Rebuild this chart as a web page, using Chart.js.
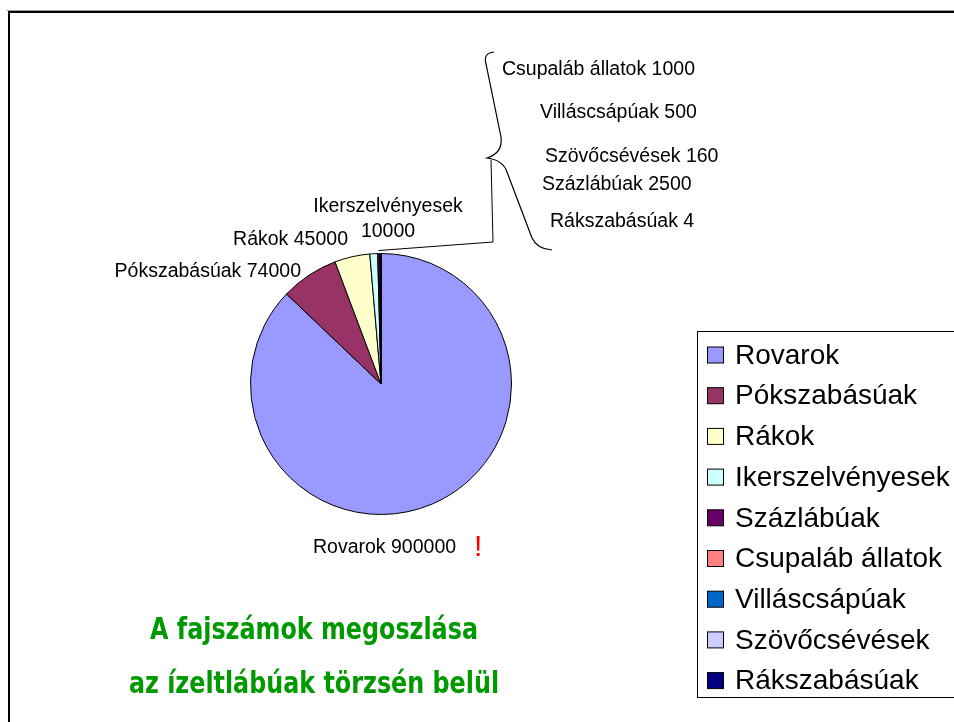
<!DOCTYPE html>
<html>
<head>
<meta charset="utf-8">
<script src="https://cdn.jsdelivr.net/npm/chart.js@4/dist/chart.umd.min.js"></script>
<style>
  html, body { margin: 0; padding: 0; background: #fff; overflow: hidden; }
  canvas { display: block; }
</style>
</head>
<body>
<canvas id="fajChart" width="954" height="722"></canvas>
<script>
const categories = ['Rovarok', 'Pókszabásúak', 'Rákok', 'Ikerszelvényesek', 'Százlábúak',
                    'Csupaláb állatok', 'Villáscsápúak', 'Szövőcsévések', 'Rákszabásúak'];
const speciesCounts = [900000, 74000, 45000, 10000, 2500, 1000, 500, 160, 4];
const sliceColors = ['#9999FF', '#993366', '#FFFFCC', '#CCFFFF', '#660066',
                     '#FF8080', '#0066CC', '#CCCCFF', '#000080'];
const titleLines = ['A fajszámok megoszlása', 'az ízeltlábúak törzsén belül'];

const LABEL_FONT = '19.5px "Liberation Sans", Arial, sans-serif';

// where each slice label sits (x, y = text anchor, vertical middle)
const labelSpots = [
    { x: 313, y: 548, align: 'left' },
    { x: 301, y: 272, align: 'right' },
    { x: 348, y: 240, align: 'right' },
    { x: 388, y: 207, align: 'center', split: true },
    { x: 542, y: 185, align: 'left' },
    { x: 502, y: 70, align: 'left' },
    { x: 540, y: 113, align: 'left' },
    { x: 545, y: 157, align: 'left' },
    { x: 550, y: 222, align: 'left' }
];

const decorPlugin = {
    id: 'decor',
    beforeDraw(chart) {
        const ctx = chart.ctx;
        ctx.save();
        ctx.fillStyle = '#fff';
        ctx.fillRect(0, 0, chart.width, chart.height);
        // slide frame
        ctx.fillStyle = '#999';
        ctx.fillRect(7, 10, chart.width, 1);
        ctx.fillStyle = '#000';
        ctx.fillRect(8, 11, chart.width, 2);
        ctx.fillRect(8, 11, 2, chart.height);
        ctx.restore();
    },
    afterDraw(chart) {
        const ctx = chart.ctx;
        const arcs = chart.getDatasetMeta(0).data;
        ctx.save();

        // slice labels
        ctx.font = LABEL_FONT;
        ctx.fillStyle = '#000';
        ctx.textBaseline = 'middle';
        labelSpots.forEach((s, i) => {
            ctx.textAlign = s.align;
            if (s.split) {
                ctx.fillText(categories[i], s.x, s.y);
                ctx.fillText(String(speciesCounts[i]), s.x, s.y + 25);
            } else {
                ctx.fillText(categories[i] + ' ' + speciesCounts[i], s.x, s.y);
            }
        });

        // red exclamation after the insect label
        ctx.font = '30px "Liberation Sans", Arial, sans-serif';
        ctx.fillStyle = '#FF0000';
        ctx.textAlign = 'left';
        ctx.fillText('!', 474, 548);

        // curly brace grouping the tiny slices
        ctx.strokeStyle = '#000';
        ctx.lineWidth = 1.2;
        ctx.beginPath();
        ctx.moveTo(494, 52);
        ctx.quadraticCurveTo(483, 53, 486, 64);
        ctx.lineTo(501, 137);
        ctx.quadraticCurveTo(503, 153, 487, 158);
        ctx.quadraticCurveTo(503, 160, 507, 172);
        ctx.lineTo(532, 238);
        ctx.quadraticCurveTo(537, 249, 552, 250);
        ctx.stroke();

        // leader from the brace down to the thin slices
        const a = arcs[4];
        const mid = (a.startAngle + a.endAngle) / 2;
        const tipX = a.x + Math.cos(mid) * (a.outerRadius + 3);
        const tipY = a.y + Math.sin(mid) * (a.outerRadius + 3);
        ctx.lineWidth = 1;
        ctx.beginPath();
        ctx.moveTo(491, 160);
        ctx.lineTo(493, 242);
        ctx.lineTo(tipX, tipY);
        ctx.stroke();

        // legend
        const lx = 697.5, ly = 331.5;
        ctx.strokeStyle = '#000';
        ctx.lineWidth = 1;
        ctx.strokeRect(lx, ly, 320, 366);
        ctx.font = '28px "Liberation Sans", Arial, sans-serif';
        ctx.textBaseline = 'middle';
        categories.forEach((name, i) => {
            const rowY = 355 + i * 40.7;
            ctx.fillStyle = sliceColors[i];
            ctx.fillRect(707.5, rowY - 8, 16, 16);
            ctx.strokeRect(707.5, rowY - 8, 16, 16);
            ctx.fillStyle = '#000';
            ctx.fillText(name, 735, rowY + 1);
        });

        // title, slightly stretched vertically
        ctx.fillStyle = '#009900';
        ctx.textAlign = 'center';
        ctx.font = 'bold 26.5px "DejaVu Sans Condensed", "DejaVu Sans", sans-serif';
        [631, 685].forEach((y, i) => {
            ctx.save();
            ctx.translate(314, y);
            ctx.scale(1, 1.12);
            ctx.fillText(titleLines[i], 0, 0);
            ctx.restore();
        });

        ctx.restore();
    }
};

const ctx = document.getElementById('fajChart').getContext('2d');
const fajChart = new Chart(ctx, {
    type: 'pie',
    data: {
        labels: categories,
        datasets: [{
            data: speciesCounts,
            backgroundColor: sliceColors,
            borderColor: '#000',
            borderWidth: 1
        }]
    },
    options: {
        responsive: false,
        animation: false,
        layout: {
            padding: { left: 250, top: 253, right: 442, bottom: 207 }
        },
        plugins: {
            legend: { display: false },
            tooltip: { enabled: false }
        }
    },
    plugins: [decorPlugin]
});
</script>
</body>
</html>
